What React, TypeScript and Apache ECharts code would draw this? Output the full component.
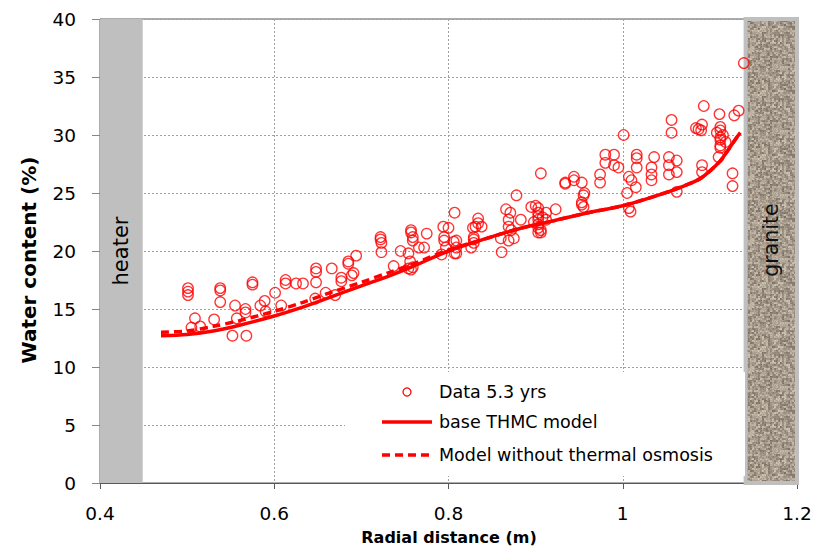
import React, { useEffect, useRef } from "react";
import * as echarts from "echarts";

const xTicks = [0.4, 0.6, 0.8, 1.0, 1.2];
const yTicks = [0, 5, 10, 15, 20, 25, 30, 35, 40];

const measured: [number, number][] = [
  [0.501, 16.8], [0.501, 16.5], [0.501, 16.2],
  [0.509, 14.2], [0.505, 13.4], [0.515, 13.5], [0.531, 14.1],
  [0.538, 16.8], [0.538, 16.6], [0.538, 15.6],
  [0.552, 12.7], [0.568, 12.7],
  [0.555, 15.3], [0.557, 14.2], [0.567, 15.0], [0.567, 14.7],
  [0.575, 17.3], [0.575, 17.1],
  [0.584, 15.3], [0.589, 15.7], [0.590, 14.8],
  [0.601, 16.4], [0.608, 15.3],
  [0.613, 17.5], [0.613, 17.2], [0.625, 17.2], [0.633, 17.2],
  [0.647, 15.9], [0.659, 16.4], [0.670, 16.2],
  [0.648, 18.5], [0.648, 18.2], [0.648, 17.3], [0.666, 18.5],
  [0.677, 17.7], [0.677, 17.4], [0.691, 18.1], [0.689, 17.9],
  [0.685, 19.1], [0.685, 18.9], [0.694, 19.6],
  [0.722, 21.2], [0.722, 21.0], [0.723, 20.7], [0.723, 19.9],
  [0.737, 18.7], [0.745, 20.0], [0.754, 19.8], [0.756, 19.1], [0.759, 18.6], [0.754, 18.5], [0.757, 18.4],
  [0.757, 21.8], [0.757, 21.6], [0.759, 21.2], [0.759, 20.9],
  [0.766, 20.3], [0.772, 20.3], [0.775, 21.5],
  [0.792, 19.7], [0.794, 22.1], [0.795, 21.2], [0.795, 20.9], [0.797, 20.3],
  [0.806, 20.8], [0.807, 19.8], [0.807, 23.3],
  [0.800, 22.0], [0.809, 20.9], [0.809, 20.3], [0.809, 19.8],
  [0.826, 20.3], [0.829, 21.2], [0.829, 21.0], [0.829, 20.7],
  [0.834, 22.8], [0.834, 22.4], [0.831, 22.1], [0.828, 22.0], [0.838, 22.1],
  [0.860, 21.1], [0.861, 19.9], [0.866, 23.6], [0.871, 23.3], [0.869, 22.7], [0.869, 22.1],
  [0.872, 21.8], [0.869, 20.9], [0.875, 21.1], [0.878, 24.8], [0.883, 22.7], [0.895, 23.8],
  [0.903, 23.7], [0.903, 23.3], [0.903, 23.0], [0.903, 22.7], [0.903, 22.3], [0.903, 22.0],
  [0.903, 21.6], [0.906, 21.8], [0.906, 21.6], [0.912, 23.3], [0.912, 22.7], [0.906, 26.7],
  [0.923, 23.6], [0.898, 22.5], [0.908, 22.9], [0.900, 23.9],
  [0.934, 25.9], [0.934, 25.8], [0.944, 26.4], [0.944, 26.1], [0.953, 25.9],
  [0.956, 25.0], [0.955, 24.8], [0.953, 24.2], [0.953, 24.0], [0.955, 23.8],
  [0.974, 26.6], [0.974, 25.9],
  [0.980, 28.3], [0.990, 28.3], [0.980, 27.6], [0.990, 27.4], [0.995, 27.2],
  [1.001, 30.0], [1.005, 25.0], [1.007, 26.4], [1.010, 26.1], [1.015, 25.5], [1.007, 23.7], [1.009, 23.4],
  [1.016, 28.3], [1.016, 28.0], [1.016, 27.2],
  [1.036, 28.1], [1.033, 27.2], [1.033, 26.6], [1.033, 26.1],
  [1.053, 28.1], [1.053, 27.4], [1.053, 26.6], [1.062, 27.8], [1.062, 26.8], [1.062, 25.1],
  [1.056, 31.3], [1.056, 30.2],
  [1.084, 30.6], [1.087, 30.5], [1.091, 30.9], [1.090, 30.4], [1.093, 32.5],
  [1.091, 27.4], [1.091, 26.8],
  [1.111, 31.8], [1.112, 30.7], [1.112, 30.4], [1.112, 29.8], [1.112, 29.6], [1.112, 29.1],
  [1.112, 28.9], [1.110, 28.1], [1.115, 30.0], [1.118, 29.4], [1.108, 30.2],
  [1.128, 31.7], [1.133, 32.1], [1.126, 26.7], [1.126, 25.6], [1.139, 36.2],
];

const baseModel: [number, number][] = [
  [0.47, 12.7], [0.5, 12.8], [0.53, 13.1], [0.56, 13.6], [0.6, 14.4], [0.63, 15.1],
  [0.66, 15.9], [0.7, 17.0], [0.73, 17.8], [0.76, 18.7], [0.8, 20.0], [0.84, 21.0],
  [0.88, 21.9], [0.92, 22.6], [0.96, 23.3], [1.0, 23.9], [1.04, 24.8], [1.07, 25.6],
  [1.09, 26.3], [1.11, 27.6], [1.12, 28.6], [1.13, 29.7], [1.135, 30.2],
];

const noOsmosisModel: [number, number][] = [
  [0.47, 13.0], [0.5, 13.1], [0.53, 13.5], [0.56, 14.0], [0.6, 14.8], [0.63, 15.5],
  [0.66, 16.3], [0.7, 17.3], [0.73, 18.1], [0.76, 18.9], [0.8, 20.1], [0.84, 21.0],
  [0.88, 21.9], [0.92, 22.6], [0.96, 23.3], [1.0, 23.9], [1.04, 24.8], [1.07, 25.6],
  [1.09, 26.3], [1.11, 27.6], [1.12, 28.6], [1.13, 29.7], [1.135, 30.2],
];

const heaterRange: [number, number] = [0.4, 0.449];
const graniteRange: [number, number] = [1.141, 1.2];

const FONT = "'DejaVu Sans', 'Noto Sans', sans-serif";

function makeGranite(): HTMLCanvasElement {
  const size = 64;
  const c = document.createElement("canvas");
  c.width = size;
  c.height = size;
  const ctx = c.getContext("2d")!;
  const img = ctx.createImageData(size, size);
  const hash = (i: number, j: number) => {
    const s = Math.sin(i * 127.1 + j * 311.7) * 43758.5453;
    return s - Math.floor(s);
  };
  for (let y = 0; y < size; y++) {
    for (let x = 0; x < size; x++) {
      const block = hash(Math.floor(x / 2) % (size / 2), Math.floor(y / 2) % (size / 2));
      const fine = hash(x + 17, y + 5);
      const v = 0.7 * block + 0.3 * fine;
      const off = (v - 0.5) * 95;
      const k = (y * size + x) * 4;
      img.data[k] = Math.max(0, Math.min(255, 166 + off));
      img.data[k + 1] = Math.max(0, Math.min(255, 154 + off));
      img.data[k + 2] = Math.max(0, Math.min(255, 140 + off * 0.9));
      img.data[k + 3] = 255;
    }
  }
  ctx.putImageData(img, 0, 0);
  return c;
}

export default function App() {
  const ref = useRef<HTMLDivElement>(null);
  useEffect(() => {
    if (!ref.current) return;
    const chart = echarts.init(ref.current, undefined, { renderer: "svg" });
    const granite = makeGranite();
    chart.setOption({
      animation: false,
      grid: {
        left: 100, right: 16, top: 19, bottom: 65,
        outerBoundsMode: "none",
        containLabel: false,
        show: true, borderColor: "#595959", borderWidth: 1,
      },
      xAxis: {
        type: "value",
        min: xTicks[0], max: xTicks[xTicks.length - 1], interval: 0.2,
        axisLine: { lineStyle: { color: "#595959", width: 1 } },
        axisTick: { show: true, inside: false, length: 6, lineStyle: { color: "#595959" } },
        axisLabel: { fontFamily: FONT, fontSize: 18.5, color: "#000", margin: 21,
          formatter: (v: number) => String(Math.round(v * 10) / 10) },
        splitLine: { show: true, lineStyle: { color: "#a0a0a0", type: [2, 2], width: 1 } },
      },
      yAxis: {
        type: "value",
        min: yTicks[0], max: yTicks[yTicks.length - 1], interval: 5,
        axisLine: { show: true, lineStyle: { color: "#868686", width: 1 } },
        axisTick: { show: true, inside: false, length: 8, lineStyle: { color: "#868686" } },
        axisLabel: { fontFamily: FONT, fontSize: 18.5, color: "#000", margin: 24 },
        splitLine: { show: true, lineStyle: { color: "#a0a0a0", type: [2, 2], width: 1 } },
      },
      series: [
        {
          name: "Data 5.3 yrs",
          type: "scatter",
          data: measured,
          symbol: "circle",
          symbolSize: 10.5,
          itemStyle: { color: "rgba(0,0,0,0)", borderColor: "#ff0000", borderWidth: 1.3 },
          z: 2,
        },
        {
          name: "Model without thermal osmosis",
          type: "line",
          data: noOsmosisModel,
          showSymbol: false,
          smooth: 0.3,
          lineStyle: { color: "#ff0000", width: 3.5, type: [8, 5] },
          z: 3,
        },
        {
          name: "base THMC model",
          type: "line",
          data: baseModel,
          showSymbol: false,
          smooth: 0.3,
          lineStyle: { color: "#ff0000", width: 3.5 },
          z: 3,
        },
        {
          name: "zones",
          type: "line",
          data: [],
          z: 4,
          markArea: {
            silent: true,
            data: [
              [
                {
                  xAxis: heaterRange[0], yAxis: yTicks[0],
                  itemStyle: { color: "#bfbfbf", borderWidth: 0 },
                  label: { show: true, position: "inside", rotate: 90, formatter: "heater",
                    fontFamily: FONT, fontSize: 21, color: "#000" },
                },
                { xAxis: heaterRange[1], yAxis: yTicks[yTicks.length - 1] },
              ],
              [
                {
                  xAxis: graniteRange[0], yAxis: yTicks[0],
                  itemStyle: { color: { image: granite, repeat: "repeat" }, borderColor: "#bfbfbf", borderWidth: 4 },
                  label: { show: true, position: "inside", rotate: 90, formatter: "granite",
                    fontFamily: FONT, fontSize: 20.5, color: "#111", offset: [11, 0] },
                },
                { xAxis: graniteRange[1], yAxis: yTicks[yTicks.length - 1] },
              ],
            ],
          },
        },
      ],
      graphic: [
        { type: "text", z: 11, x: 29, y: 260, rotation: Math.PI / 2,
          style: { text: "Water content (%)", fontFamily: FONT, fontWeight: "bold", fontSize: 20, fill: "#000", align: "center", verticalAlign: "middle" } },
        { type: "text", z: 11, x: 449, y: 537,
          style: { text: "Radial distance (m)", fontFamily: FONT, fontWeight: "bold", fontSize: 16, fill: "#000", align: "center", verticalAlign: "middle" } },
        { type: "rect", z: 10, shape: { x: 345, y: 372, width: 400, height: 104 }, style: { fill: "#ffffff" } },
        { type: "circle", z: 11, shape: { cx: 407, cy: 392, r: 4 }, style: { fill: "none", stroke: "#ff0000", lineWidth: 1.3 } },
        { type: "line", z: 11, shape: { x1: 382, y1: 422, x2: 432, y2: 422 }, style: { stroke: "#ff0000", lineWidth: 3.5 } },
        { type: "line", z: 11, shape: { x1: 382, y1: 455, x2: 432, y2: 455 }, style: { stroke: "#ff0000", lineWidth: 3.5, lineDash: [8, 5] } },
        { type: "text", z: 11, x: 439, y: 392, style: { text: "Data 5.3 yrs", fontFamily: FONT, fontSize: 17.5, fill: "#000", verticalAlign: "middle" } },
        { type: "text", z: 11, x: 439, y: 422, style: { text: "base THMC model", fontFamily: FONT, fontSize: 17.5, fill: "#000", verticalAlign: "middle" } },
        { type: "text", z: 11, x: 439, y: 455, style: { text: "Model without thermal osmosis", fontFamily: FONT, fontSize: 17.5, fill: "#000", verticalAlign: "middle" } },
      ],
    });
    return () => chart.dispose();
  }, []);
  return <div ref={ref} style={{ width: 813, height: 548, position: "absolute", left: 0, top: 0, background: "#fff" }} />;
}
